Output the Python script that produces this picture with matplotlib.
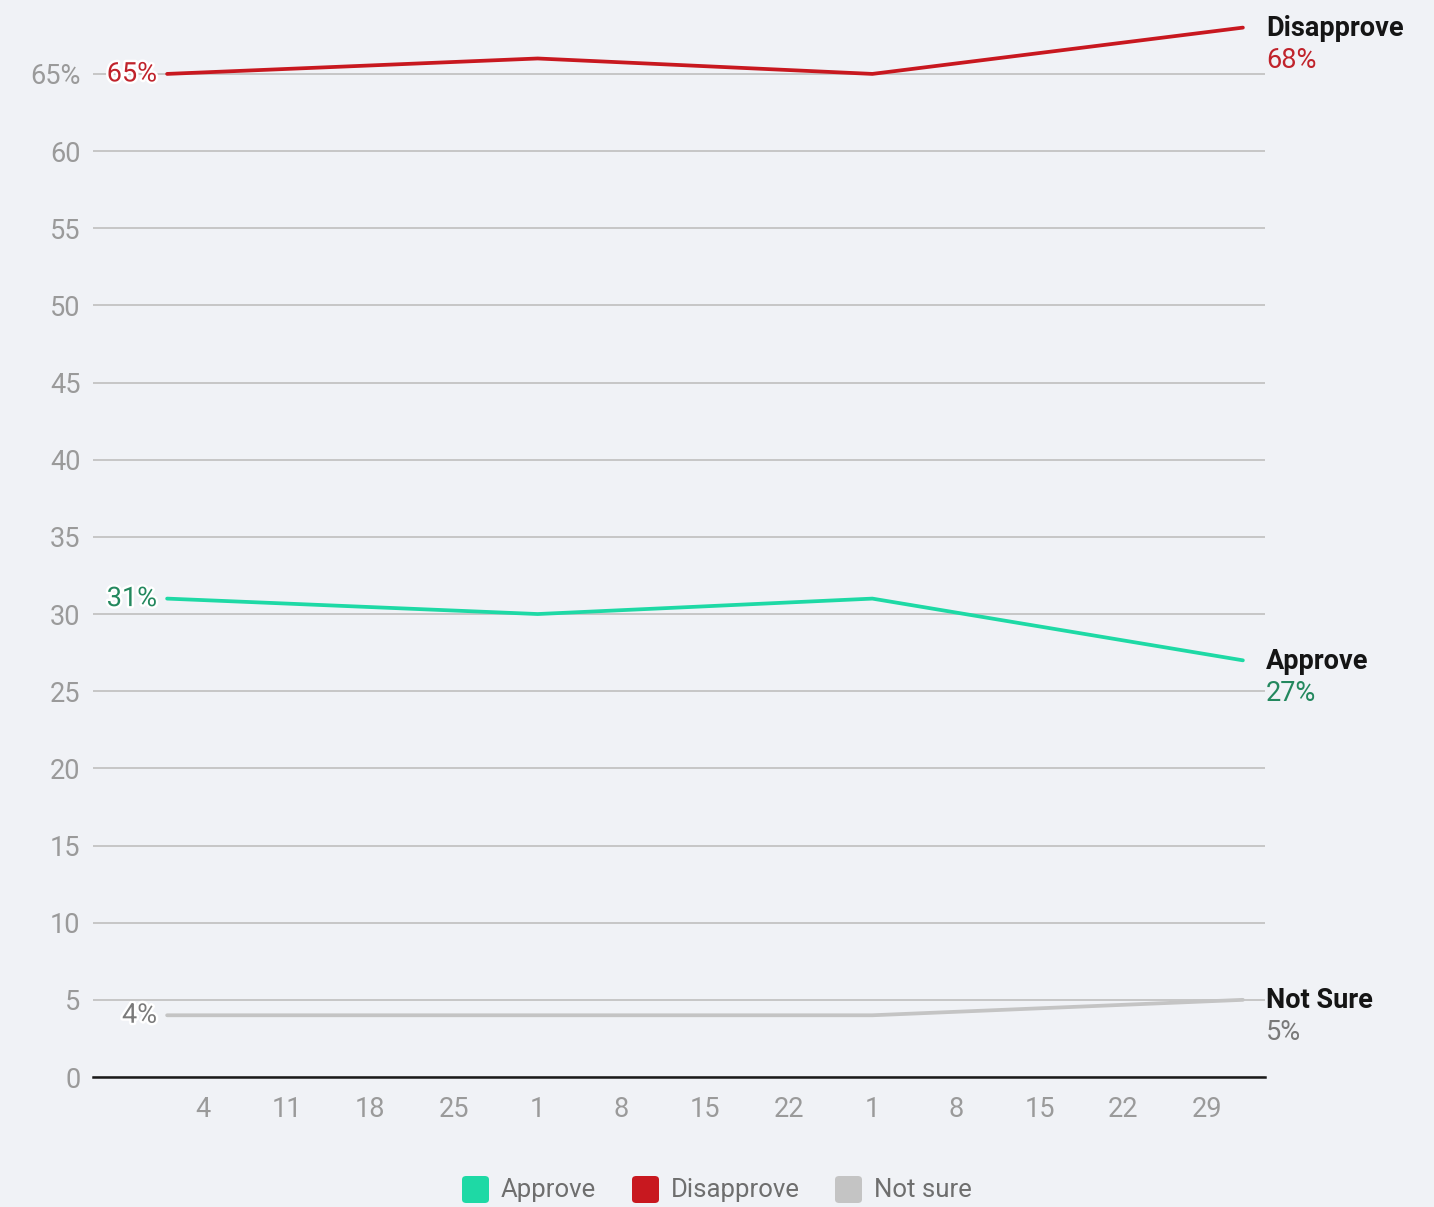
import matplotlib
matplotlib.use("Agg")
import matplotlib.pyplot as plt
import matplotlib.dates as mdates
import matplotlib.patheffects as pe
from matplotlib.ticker import FuncFormatter
from matplotlib.patches import FancyBboxPatch
from datetime import datetime, timedelta

plt.rcParams['font.family'] = ['Roboto', 'DejaVu Sans']

# data
poll_dates = ["2026-01-01", "2026-02-01", "2026-03-01", "2026-04-01"]
approve = [31, 30, 31, 27]
disapprove = [65, 66, 65, 68]
not_sure = [4, 4, 4, 5]
series_names = ["Approve", "Disapprove", "Not Sure"]
legend_names = ["Approve", "Disapprove", "Not sure"]

dates = [datetime.strptime(d, "%Y-%m-%d") for d in poll_dates]

bg = "#f0f2f6"
line_colors = ["#1ed9a5", "#c8181f", "#c4c4c4"]
text_colors = ["#23885e", "#c0232b", "#7a7a7a"]

W, H = 1434, 1207
fig = plt.figure(figsize=(W / 100, H / 100), dpi=100, facecolor=bg)
ax = fig.add_axes([93 / W, (H - 1077) / H, 1172 / W, 1075 / H])
ax.set_facecolor(bg)

ax.set_ylim(0, 69.66)
ax.set_xlim(dates[0] - timedelta(days=6.2), dates[-1] + timedelta(days=1.85))

yt = list(range(0, 70, 5))
ax.set_yticks(yt)
ax.yaxis.set_major_formatter(FuncFormatter(lambda v, p: f"{v:.0f}%" if v == 65 else f"{v:.0f}"))
ax.grid(axis='y', color='#c6c6c6', linewidth=1.4)
ax.set_axisbelow(True)
for s in ['top', 'right', 'left']:
    ax.spines[s].set_visible(False)
ax.spines['bottom'].set_color('#1a1a1a')
ax.spines['bottom'].set_linewidth(1.8)
ax.spines['bottom'].set_zorder(5)

# weekly (Sunday) ticks from the first poll onward
sundays = mdates.WeekdayLocator(byweekday=mdates.SU).tick_values(dates[0], dates[-1])
ax.set_xticks([t for t in sundays if t >= mdates.date2num(dates[0]) and t <= mdates.date2num(dates[-1])])
ax.xaxis.set_major_formatter(FuncFormatter(lambda v, p: str(mdates.num2date(v).day)))
ax.tick_params(axis='both', length=0, labelsize=19.5, labelcolor='#9a9a9a')
ax.tick_params(axis='y', pad=9)
ax.tick_params(axis='x', pad=14)

outline = [pe.withStroke(linewidth=3.5, foreground='white')]
all_vals = [approve, disapprove, not_sure]
for vals, name, lc, tc in zip(all_vals, series_names, line_colors, text_colors):
    ax.plot(dates, vals, color=lc, linewidth=2.7, solid_capstyle='round', zorder=3)
    ax.annotate(f"{vals[0]}%", (dates[0], vals[0]), xytext=(-10, 0),
                textcoords='offset pixels', ha='right', va='center',
                fontsize=19.5, color=tc, path_effects=outline, zorder=6)
    ax.annotate(name, (dates[-1], vals[-1]), xytext=(23, -1),
                textcoords='offset pixels', ha='left', va='center',
                fontsize=19.5, fontweight='bold', color='#151515',
                annotation_clip=False)
    ax.annotate(f"{vals[-1]}%", (dates[-1], vals[-1]), xytext=(23, -33),
                textcoords='offset pixels', ha='left', va='center',
                fontsize=19.5, color=tc, annotation_clip=False)

# legend
leg_items = [(461, legend_names[0], line_colors[0]),
             (631, legend_names[1], line_colors[1]),
             (834, legend_names[2], line_colors[2])]
for x0, lab, col in leg_items:
    sq = FancyBboxPatch(((x0 + 1) / W, (H - 1203) / H), 27 / W, 27 / H,
                        boxstyle="round,pad=0,rounding_size=0.003",
                        transform=fig.transFigure, facecolor=col, edgecolor='none')
    fig.patches.append(sq)
    fig.text((x0 + 40) / W, (H - 1190) / H, lab, ha='left', va='center',
             fontsize=18.5, color='#6e6e6e')

fig.savefig("out.png", dpi=100, facecolor=bg)
